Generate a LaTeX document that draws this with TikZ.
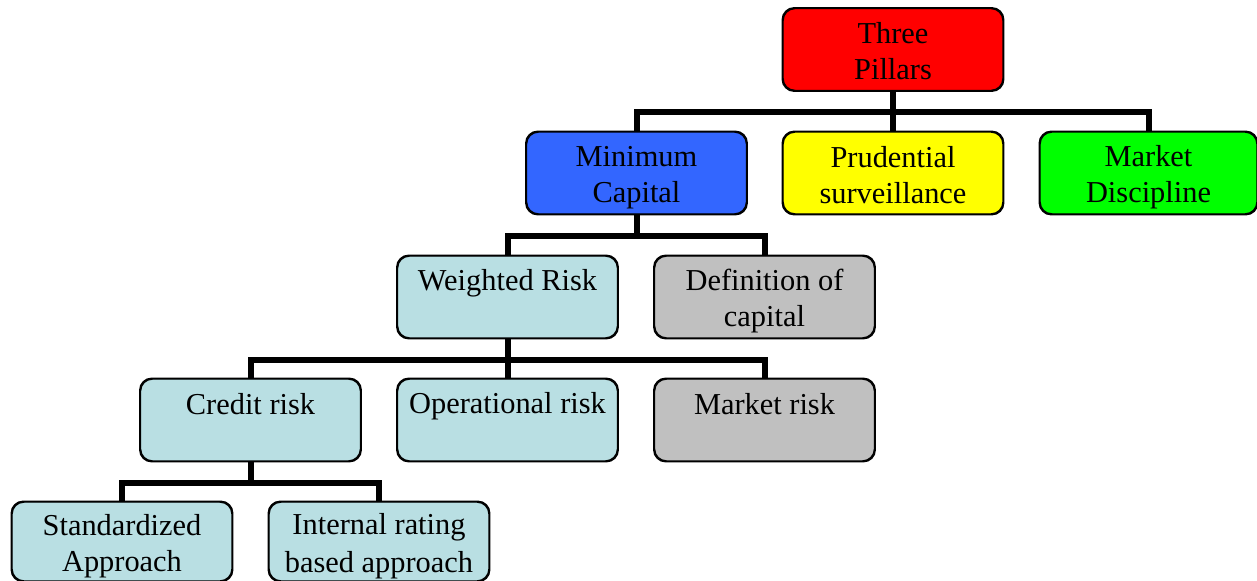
\documentclass[tikz,border=0pt]{standalone}
\usepackage{fontspec}
\setmainfont{Liberation Serif}
% fixed line strut so every box sets its baselines at the same place
\newcommand\ls{\rule[-4.15pt]{0pt}{27pt}}
\begin{document}
\begin{tikzpicture}[x=0.75pt,y=-0.75pt,
  box/.style={draw=black,line width=1.1pt,rounded corners=9pt,
    minimum width=165pt,minimum height=61.5pt,inner sep=0pt,
    align=center,font=\fontsize{22.8}{27}\selectfont},
  link/.style={line width=4.5pt,line join=miter},
  redc/.style={fill={rgb,255:red,255;green,0;blue,0}},
  bluec/.style={fill={rgb,255:red,51;green,102;blue,255}},
  yellowc/.style={fill={rgb,255:red,255;green,255;blue,0}},
  greenc/.style={fill={rgb,255:red,0;green,255;blue,0}},
  tealc/.style={fill={rgb,255:red,185;green,223;blue,227}},
  grayc/.style={fill={rgb,255:red,192;green,192;blue,192}}]
\useasboundingbox (0,0) rectangle (1257,581);

\node[box,redc] (three) at (893,49.5) {\ls Three\\\ls Pillars};
\node[box,bluec] (mincap) at (636.5,173) {\ls Minimum\\\ls Capital};
\node[box,yellowc] (prud) at (893,173) {\ls Prudential\\\ls surveillance};
\node[box,greenc,minimum width=162.75pt] (mdisc) at (1148.5,173) {\ls Market\\\ls Discipline};

\node[box,tealc] (wrisk) at (507.5,297) {\ls Weighted Risk\\\ls};
\node[box,grayc] (defcap) at (764.5,297) {\ls Definition of\\\ls capital};

\node[box,tealc] (credit) at (250.5,420) {\ls Credit risk\\\ls};
\node[box,tealc] (oprisk) at (507.5,420) {\ls Operational risk\\\ls};
\node[box,grayc] (mrisk) at (764.5,420) {\ls Market risk\\\ls};

\node[box,tealc,minimum height=59.25pt] (stdapp) at (122,541.5) {\ls Standardized\\\ls Approach};
\node[box,tealc,minimum height=59.25pt] (irb) at (379,541.5) {\ls Internal rating\\\ls based approach};

% tree links
\foreach \p/\c in {three/mincap,three/prud,three/mdisc,
                   mincap/wrisk,mincap/defcap,
                   wrisk/credit,wrisk/oprisk,wrisk/mrisk,
                   credit/stdapp,credit/irb}{
  \draw[link] (\p.south) -- ++(0,21) -| (\c.north);
}
% redraw the boxes' outlines over the link ends
\foreach \n in {three,mincap,prud,mdisc,wrisk,defcap,credit,oprisk,mrisk,stdapp,irb}{
  \draw[line width=1.1pt,rounded corners=9pt] (\n.south west) rectangle (\n.north east);
}
\end{tikzpicture}
\end{document}
